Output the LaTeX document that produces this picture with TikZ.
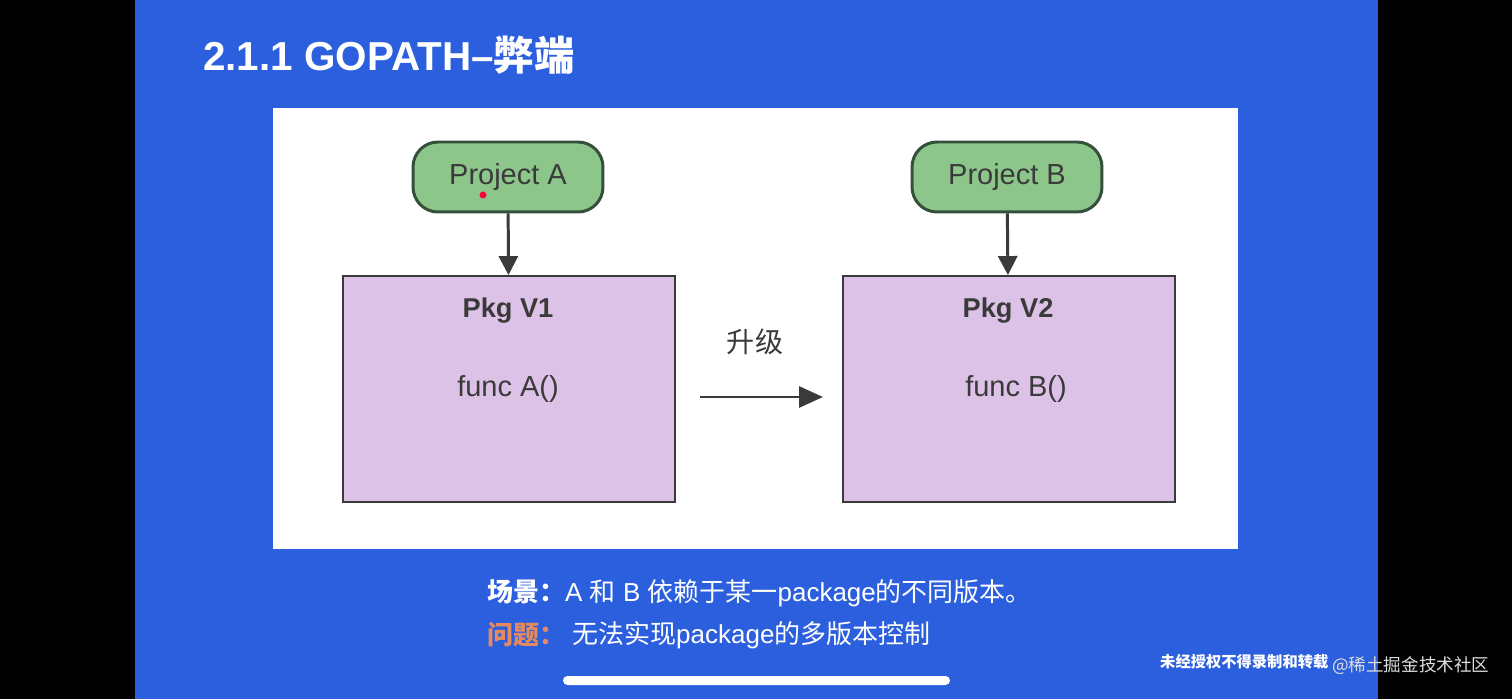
\documentclass[tikz,border=0pt]{standalone}
\usepackage{fontspec}
\setmainfont{Liberation Sans}
\newfontfamily\cjk{Noto Sans CJK SC}
\usepackage{xcolor}
\usetikzlibrary{arrows.meta}

\definecolor{slideblue}{HTML}{2B5FDD}
\definecolor{projgreen}{HTML}{8DC68B}
\definecolor{projline}{HTML}{34503A}
\definecolor{pkgpurple}{HTML}{DDC2E7}
\definecolor{textgray}{HTML}{3A3A3A}
\definecolor{issueorange}{HTML}{E58A5E}

\begin{document}
\begin{tikzpicture}[x=0.02cm, y=-0.02cm,
      proj/.style={draw=projline, line width=1.7pt, fill=projgreen, rounded corners=0.5cm,
        minimum width=3.8cm, minimum height=1.4cm, text=textgray, font=\fontsize{16.5}{18}\selectfont},
      pkg/.style={draw=textgray, line width=1.1pt, fill=pkgpurple, minimum width=6.64cm,
        minimum height=4.52cm},
      pkgtxt/.style={text=textgray, font=\fontsize{16.5}{18}\selectfont},
      note/.style={anchor=west, text=white, font=\fontsize{14.8}{17}\selectfont},
      arr/.style={-{Triangle[length=0.38cm, width=0.38cm]}, line width=1.7pt, draw=textgray}
    ]
      % phone frame and slide
      \fill[black] (0,0) rectangle (1512,699);
      \fill[slideblue] (135,0) rectangle (1378,699);
      \node[anchor=west, text=white, font=\fontsize{23}{26}\selectfont\bfseries] (title) at (197,55) {2.1.1 GOPATH–{\cjk 弊端}};

      % white panel
      \fill[white] (273,108) rectangle (1238,549);

      \node[proj] (pa) at (508,177) {\raisebox{-2pt}{Project A}};
      \node[proj] (pb) at (1007,177) {\raisebox{-2pt}{Project B}};
      \fill[red!75!magenta] (483,195) circle (3.5);

      \node[pkg] (v1) at (509,389) {};
      \node[pkg] (v2) at (1009,389) {};
      \node[pkgtxt, font=\fontsize{15.5}{18}\selectfont\bfseries] (v1name) at (508,311) {Pkg V1};
      \node[pkgtxt] (v1func) at (508,389) {func A()};
      \node[pkgtxt, font=\fontsize{15.5}{18}\selectfont\bfseries] (v2name) at (1008,311) {Pkg V2};
      \node[pkgtxt] (v2func) at (1016,389) {func B()};

      \draw[arr] (pa) -- (v1);
      \draw[arr] (pb) -- (v2);

      % upgrade arrow
      \coordinate (up-s) at (700,397);
      \coordinate (up-e) at (823,397);
      \node[pkgtxt, font=\fontsize{16}{18}\selectfont\cjk] (uplabel) at (755,342) {升级};
      \draw[arr, -{Triangle[length=0.48cm, width=0.42cm]}] (up-s) -- (up-e);

      % notes under the panel
      \node[note] (scene) at (481,593) {{\cjk\bfseries 场景：}A {\cjk 和} B {\cjk 依赖于某一}package{\cjk 的不同版本。}};
      \node[note, text=issueorange, font=\fontsize{14.8}{17}\selectfont\cjk\bfseries] (qlab) at (481,635) {问题：};
      \node[note] (qtxt) at (566,635) {{\cjk 无法实现}package{\cjk 的多版本控制}};

      % watermark and home bar
      \node[anchor=west, text=white, font=\fontsize{8.7}{10}\selectfont\cjk\bfseries] (mark) at (1154,662) {未经授权不得录制和转载};
      \node[anchor=west, text=white!75!gray, font=\fontsize{10}{11}\selectfont\cjk] (site) at (1326,666) {@稀土掘金技术社区};
      \fill[white, rounded corners=0.09cm] (563,676) rectangle (950,685);
    \end{tikzpicture}
\end{document}
